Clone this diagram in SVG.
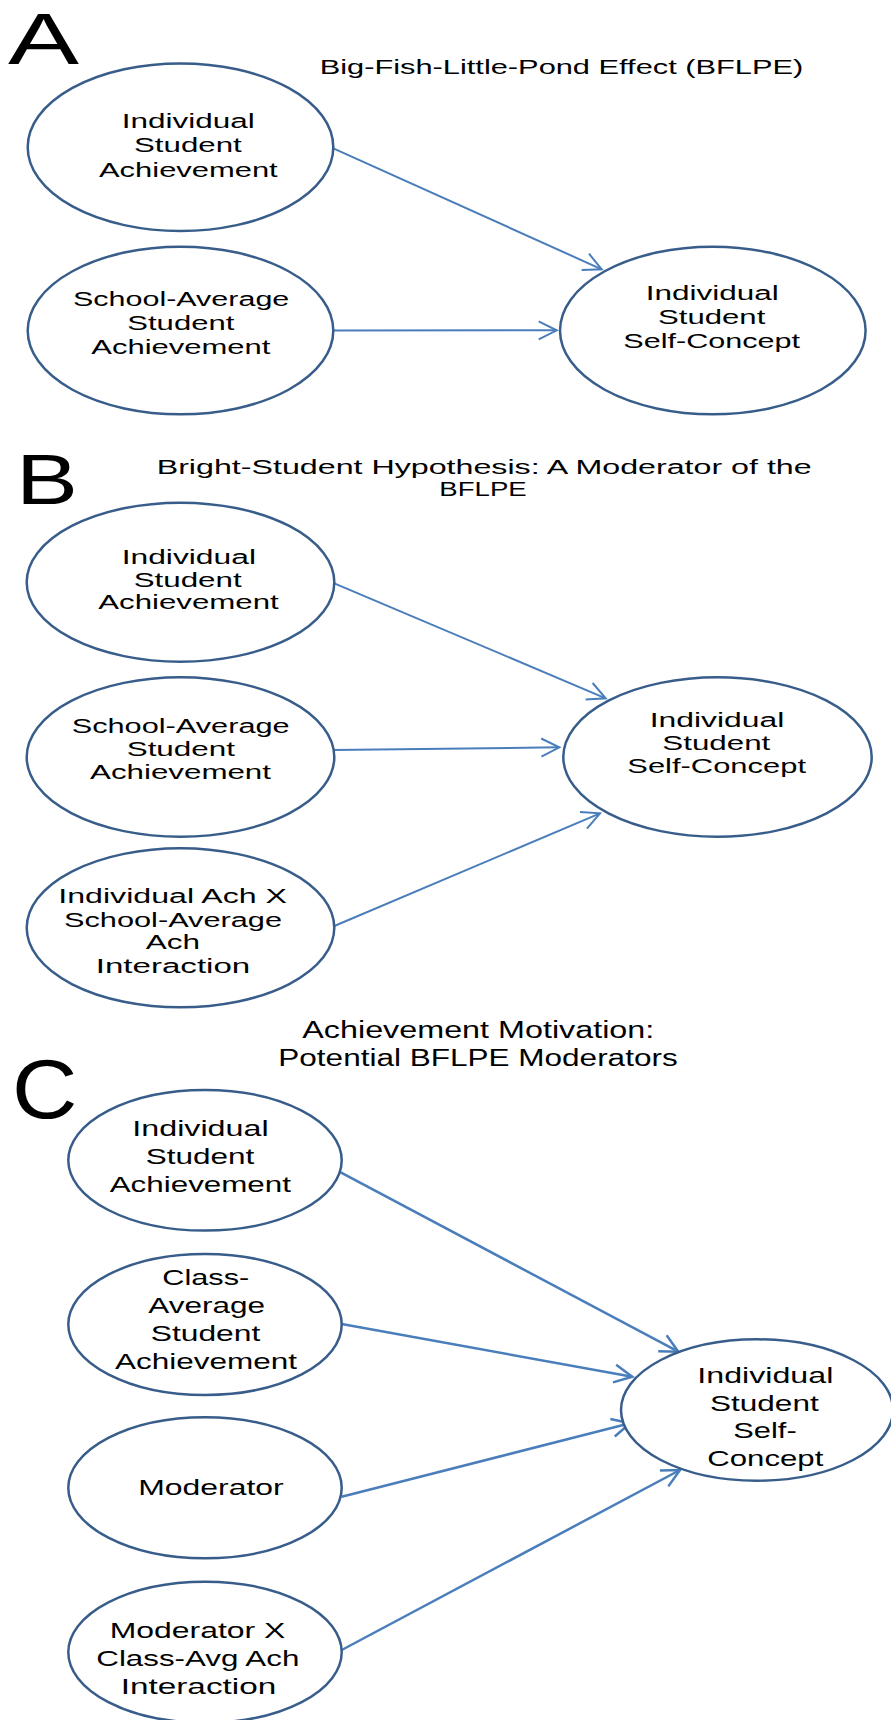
<svg xmlns="http://www.w3.org/2000/svg" width="891" height="1720" viewBox="0 0 891 1720">
<style>
.n{fill:#fff;stroke:#385d8a;stroke-width:2.5}
.t{font-family:"Liberation Sans",Arial,sans-serif;font-size:20px;fill:#000}
.s22{font-size:22px}
.tt{font-size:19.5px}
.tc{font-size:23px}
.c{stroke:#4a7ebb;stroke-width:2;fill:none;marker-end:url(#ah)}
.cw{stroke-width:2.5;marker-end:url(#ah2)}
</style>
<defs>
<marker id="ah" markerWidth="24" markerHeight="24" refX="20" refY="10" orient="auto" markerUnits="userSpaceOnUse" overflow="visible">
<path d="M2,1 L20,10 L2,19" fill="none" stroke="#4a7ebb" stroke-width="2"/>
</marker>
<marker id="ah2" markerWidth="24" markerHeight="24" refX="20" refY="10" orient="auto" markerUnits="userSpaceOnUse" overflow="visible">
<path d="M2,1 L20,10 L2,19" fill="none" stroke="#4a7ebb" stroke-width="2.5"/>
</marker>
</defs>
<rect width="891" height="1720" fill="#fff"/>

<!-- Panel labels and titles -->
<g id="labels" class="t">
<text x="8" y="64" style="font-size:73px" textLength="71" lengthAdjust="spacingAndGlyphs">A</text>
<text x="319.7" y="74" class="tt" textLength="483.6" lengthAdjust="spacingAndGlyphs">Big-Fish-Little-Pond Effect (BFLPE)</text>
<text x="16" y="504" style="font-size:70px" textLength="62" lengthAdjust="spacingAndGlyphs">B</text>
<text x="156.7" y="474.3" class="tt" textLength="655" lengthAdjust="spacingAndGlyphs">Bright-Student Hypothesis: A Moderator of the</text>
<text x="439.3" y="496" class="tt" textLength="87.4" lengthAdjust="spacingAndGlyphs">BFLPE</text>
<text x="12" y="1118" style="font-size:84px" textLength="65.4" lengthAdjust="spacingAndGlyphs">C</text>
<text x="302.3" y="1038.3" class="tc" textLength="352" lengthAdjust="spacingAndGlyphs">Achievement Motivation:</text>
<text x="278.3" y="1066" class="tc" textLength="399.4" lengthAdjust="spacingAndGlyphs">Potential BFLPE Moderators</text>
</g>

<!-- Connectors -->
<g id="connectors">
<path class="c" d="M333.3,148.3 L601.7,269.3"/>
<path class="c" d="M333.3,330.5 L556.7,330.3"/>
<path class="c" d="M334.3,583.3 L605.7,698.3"/>
<path class="c" d="M333.3,750 L559.3,747.3"/>
<path class="c" d="M334.3,926 L600,813.3"/>
<path class="c cw" d="M335,1169.3 L678.3,1351.7"/>
<path class="c cw" d="M341.7,1324 L632.3,1376.7"/>
<path class="c cw" d="M341.7,1496.7 L630,1423.3"/>
<path class="c cw" d="M341.7,1650 L680,1470"/>
</g>

<!-- Panel A nodes -->
<g id="a-ind-ach">
<ellipse class="n" cx="180.5" cy="147.2" rx="152.8" ry="83.8"/>
<text class="t" x="121.7" y="127.5" textLength="133" lengthAdjust="spacingAndGlyphs">Individual</text>
<text class="t" x="134" y="152" textLength="107.7" lengthAdjust="spacingAndGlyphs">Student</text>
<text class="t" x="99" y="176.5" textLength="178.7" lengthAdjust="spacingAndGlyphs">Achievement</text>
</g>
<g id="a-school-ach">
<ellipse class="n" cx="180.5" cy="330.5" rx="152.8" ry="83.8"/>
<text class="t" x="73" y="306" textLength="216.3" lengthAdjust="spacingAndGlyphs">School-Average</text>
<text class="t" x="127.3" y="330" textLength="107" lengthAdjust="spacingAndGlyphs">Student</text>
<text class="t" x="91.3" y="354" textLength="179" lengthAdjust="spacingAndGlyphs">Achievement</text>
</g>
<g id="a-self-concept">
<ellipse class="n" cx="712.8" cy="330.5" rx="152.8" ry="83.8"/>
<text class="t" x="645.7" y="300" textLength="133" lengthAdjust="spacingAndGlyphs">Individual</text>
<text class="t" x="658" y="324" textLength="107.3" lengthAdjust="spacingAndGlyphs">Student</text>
<text class="t" x="623.3" y="348" textLength="176.7" lengthAdjust="spacingAndGlyphs">Self-Concept</text>
</g>

<!-- Panel B nodes -->
<g id="b-ind-ach">
<ellipse class="n" cx="180.5" cy="582.2" rx="153.8" ry="79.5"/>
<text class="t" x="121.7" y="564.3" textLength="134.3" lengthAdjust="spacingAndGlyphs">Individual</text>
<text class="t" x="133.7" y="586.7" textLength="108" lengthAdjust="spacingAndGlyphs">Student</text>
<text class="t" x="98.3" y="609.3" textLength="180.4" lengthAdjust="spacingAndGlyphs">Achievement</text>
</g>
<g id="b-school-ach">
<ellipse class="n" cx="180.5" cy="757" rx="153.8" ry="79.7"/>
<text class="t" x="71.7" y="733.3" textLength="218" lengthAdjust="spacingAndGlyphs">School-Average</text>
<text class="t" x="126.7" y="756" textLength="108.3" lengthAdjust="spacingAndGlyphs">Student</text>
<text class="t" x="90" y="779.3" textLength="181" lengthAdjust="spacingAndGlyphs">Achievement</text>
</g>
<g id="b-interaction">
<ellipse class="n" cx="180.5" cy="927.8" rx="153.8" ry="79.5"/>
<text class="t" x="58.3" y="903.3" textLength="228.7" lengthAdjust="spacingAndGlyphs">Individual Ach X</text>
<text class="t" x="64" y="926.7" textLength="218" lengthAdjust="spacingAndGlyphs">School-Average</text>
<text class="t" x="145.7" y="949.3" textLength="54.3" lengthAdjust="spacingAndGlyphs">Ach</text>
<text class="t" x="95.7" y="972.7" textLength="154.6" lengthAdjust="spacingAndGlyphs">Interaction</text>
</g>
<g id="b-self-concept">
<ellipse class="n" cx="717.5" cy="757" rx="154.2" ry="79.7"/>
<text class="t" x="649.7" y="726.7" textLength="134.6" lengthAdjust="spacingAndGlyphs">Individual</text>
<text class="t" x="662.3" y="750" textLength="108" lengthAdjust="spacingAndGlyphs">Student</text>
<text class="t" x="627.3" y="772.7" textLength="178.7" lengthAdjust="spacingAndGlyphs">Self-Concept</text>
</g>

<!-- Panel C nodes -->
<g id="c-ind-ach">
<ellipse class="n" cx="205" cy="1160.3" rx="136.7" ry="70.3"/>
<text class="t s22" x="132.3" y="1136" textLength="136.3" lengthAdjust="spacingAndGlyphs">Individual</text>
<text class="t s22" x="145.7" y="1164" textLength="108.6" lengthAdjust="spacingAndGlyphs">Student</text>
<text class="t s22" x="109.7" y="1191.7" textLength="181.3" lengthAdjust="spacingAndGlyphs">Achievement</text>
</g>
<g id="c-class-ach">
<ellipse class="n" cx="205" cy="1324.5" rx="136.7" ry="70.5"/>
<text class="t s22" x="162.3" y="1285" textLength="87" lengthAdjust="spacingAndGlyphs">Class-</text>
<text class="t s22" x="148.3" y="1312.7" textLength="116.7" lengthAdjust="spacingAndGlyphs">Average</text>
<text class="t s22" x="150.7" y="1341" textLength="109.6" lengthAdjust="spacingAndGlyphs">Student</text>
<text class="t s22" x="115" y="1369" textLength="182" lengthAdjust="spacingAndGlyphs">Achievement</text>
</g>
<g id="c-moderator">
<ellipse class="n" cx="205" cy="1487.8" rx="136.7" ry="70.5"/>
<text class="t s22" x="138.3" y="1495" textLength="145.4" lengthAdjust="spacingAndGlyphs">Moderator</text>
</g>
<g id="c-interaction">
<ellipse class="n" cx="205" cy="1652.2" rx="136.7" ry="70.5"/>
<text class="t s22" x="109.7" y="1637.7" textLength="175.6" lengthAdjust="spacingAndGlyphs">Moderator X</text>
<text class="t s22" x="96.3" y="1665.7" textLength="203" lengthAdjust="spacingAndGlyphs">Class-Avg Ach</text>
<text class="t s22" x="120.7" y="1694" textLength="155.6" lengthAdjust="spacingAndGlyphs">Interaction</text>
</g>
<g id="c-self-concept">
<ellipse class="n" cx="757" cy="1410" rx="136" ry="70.7"/>
<text class="t s22" x="697.3" y="1383.3" textLength="136" lengthAdjust="spacingAndGlyphs">Individual</text>
<text class="t s22" x="710" y="1410.7" textLength="108.7" lengthAdjust="spacingAndGlyphs">Student</text>
<text class="t s22" x="733.3" y="1438.3" textLength="63.4" lengthAdjust="spacingAndGlyphs">Self-</text>
<text class="t s22" x="707.3" y="1466" textLength="116" lengthAdjust="spacingAndGlyphs">Concept</text>
</g>
</svg>
